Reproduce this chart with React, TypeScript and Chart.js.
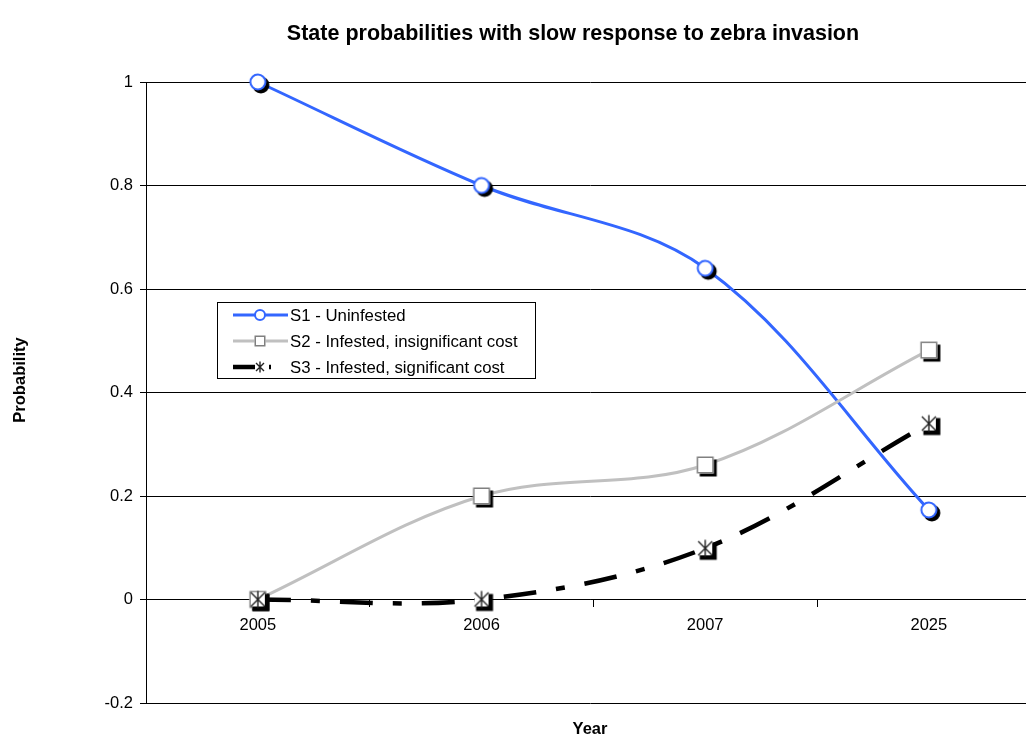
import React, { useEffect, useRef } from "react";
import { Chart, registerables } from "chart.js";

Chart.register(...registerables);

const FONT = "'Liberation Sans', Arial, Helvetica, sans-serif";

const titleText = "State probabilities with slow response to zebra invasion";
const xTitle = "Year";
const yTitle = "Probability";

const categories = ["2005", "2006", "2007", "2025"];
const s1Values = [1, 0.8, 0.64, 0.173];
const s2Values = [0, 0.2, 0.26, 0.482];
const s3Values = [0, 0, 0.099, 0.34];
const seriesLabels = [
  "S1 - Uninfested",
  "S2 - Infested, insignificant cost",
  "S3 - Infested, significant cost",
];

const yMin = -0.2;
const yMax = 1;
const yStep = 0.2;

const BLUE = "rgb(51,102,255)";
const GRAY = "#c0c0c0";
const MARK_GRAY = "#808080";

type Kind = "circle" | "square" | "star";

function drawGlyph(g: CanvasRenderingContext2D, kind: Kind, cx: number, cy: number, r: number, withBg: boolean) {
  if (kind === "circle") {
    g.beginPath();
    g.arc(cx, cy, r - 1, 0, Math.PI * 2);
    g.fillStyle = "#fff";
    g.fill();
    g.lineWidth = 2;
    g.strokeStyle = BLUE;
    g.stroke();
  } else if (kind === "square") {
    g.fillStyle = "#fff";
    g.fillRect(cx - r, cy - r, 2 * r, 2 * r);
    g.lineWidth = 1.5;
    g.strokeStyle = MARK_GRAY;
    g.strokeRect(cx - r + 0.75, cy - r + 0.75, 2 * r - 1.5, 2 * r - 1.5);
  } else {
    if (withBg) {
      g.fillStyle = "#fff";
      g.fillRect(cx - r + 1.5, cy - r + 1.5, 2 * r - 3, 2 * r - 3);
    }
    const d = r - 1.5;
    g.strokeStyle = "#222";
    g.lineWidth = 1.4;
    g.beginPath();
    g.moveTo(cx - d, cy - d);
    g.lineTo(cx + d, cy + d);
    g.moveTo(cx + d, cy - d);
    g.lineTo(cx - d, cy + d);
    g.moveTo(cx, cy - r);
    g.lineTo(cx, cy + r);
    g.stroke();
  }
}

function makeMarker(kind: Kind): HTMLCanvasElement {
  const S = 34;
  const c = S / 2;
  const r = 8.5;
  const off = 3;
  const cv = document.createElement("canvas");
  cv.width = S;
  cv.height = S;
  const g = cv.getContext("2d") as CanvasRenderingContext2D;
  g.fillStyle = "#000";
  if (kind === "circle") {
    g.beginPath();
    g.arc(c + off, c + off, r, 0, Math.PI * 2);
    g.fill();
  } else {
    g.fillRect(c - r + off, c - r + off, 2 * r, 2 * r);
  }
  drawGlyph(g, kind, c, c, r, true);
  return cv;
}

const decorPlugin = {
  id: "decor",
  afterDraw(chart: any) {
    const ctx: CanvasRenderingContext2D = chart.ctx;
    ctx.save();
    ctx.fillStyle = "#000";
    ctx.textAlign = "center";
    ctx.textBaseline = "middle";
    ctx.font = `bold 21.5px ${FONT}`;
    ctx.fillText(titleText, 565, 26);

    ctx.font = `bold 16.5px ${FONT}`;
    ctx.fillText(xTitle, 582, 721);
    ctx.save();
    ctx.translate(12, 372);
    ctx.rotate(-Math.PI / 2);
    ctx.fillText(yTitle, 0, 0);
    ctx.restore();

    // legend
    const bx = 209.5, by = 294.5, bw = 318, bh = 76;
    ctx.fillStyle = "#fff";
    ctx.fillRect(bx, by, bw, bh);
    ctx.strokeStyle = "#000";
    ctx.lineWidth = 1;
    ctx.strokeRect(bx, by, bw, bh);
    const rows = [307, 333, 359];
    const lx0 = 225, lx1 = 280, mx = 252;
    // S1
    ctx.strokeStyle = BLUE;
    ctx.lineWidth = 3;
    ctx.beginPath();
    ctx.moveTo(lx0, rows[0]);
    ctx.lineTo(lx1, rows[0]);
    ctx.stroke();
    drawGlyph(ctx, "circle", mx, rows[0], 6, false);
    // S2
    ctx.strokeStyle = GRAY;
    ctx.lineWidth = 3;
    ctx.beginPath();
    ctx.moveTo(lx0, rows[1]);
    ctx.lineTo(lx1, rows[1]);
    ctx.stroke();
    drawGlyph(ctx, "square", mx, rows[1], 5.5, false);
    // S3
    ctx.strokeStyle = "#000";
    ctx.lineWidth = 4.5;
    ctx.beginPath();
    ctx.moveTo(lx0, rows[2]);
    ctx.lineTo(lx0 + 22, rows[2]);
    ctx.moveTo(lx0 + 36, rows[2]);
    ctx.lineTo(lx0 + 38, rows[2]);
    ctx.stroke();
    drawGlyph(ctx, "star", mx, rows[2], 5.5, false);

    ctx.fillStyle = "#000";
    ctx.textAlign = "left";
    ctx.font = `16.8px ${FONT}`;
    seriesLabels.forEach((t, i) => ctx.fillText(t, 282, rows[i] + 1));
    ctx.restore();
  },
};

export default function App() {
  const ref = useRef<HTMLCanvasElement | null>(null);

  useEffect(() => {
    document.documentElement.style.overflow = "hidden";
    document.body.style.overflow = "hidden";
    if (!ref.current) return;
    const toPts = (vals: number[]) => vals.map((v, i) => ({ x: i, y: v }));
    const chart = new Chart(ref.current, {
      type: "line",
      data: {
        datasets: [
          {
            label: seriesLabels[0],
            data: toPts(s1Values),
            borderColor: BLUE,
            borderWidth: 3,
            tension: 0.35,
            pointStyle: makeMarker("circle") as any,
            pointRadius: 17,
            order: 3,
            clip: false as any,
          },
          {
            label: seriesLabels[1],
            data: toPts(s2Values),
            borderColor: GRAY,
            borderWidth: 3,
            tension: 0.35,
            pointStyle: makeMarker("square") as any,
            pointRadius: 17,
            order: 2,
            clip: false as any,
          },
          {
            label: seriesLabels[2],
            data: toPts(s3Values),
            borderColor: "#000",
            borderWidth: 4.5,
            borderDash: [33, 20, 9, 20],
            borderCapStyle: "butt",
            tension: 0.35,
            pointStyle: makeMarker("star") as any,
            pointRadius: 17,
            order: 1,
            clip: false as any,
          },
        ],
      },
      options: {
        animation: false,
        responsive: true,
        maintainAspectRatio: false,
        layout: { autoPadding: false, padding: { top: 74, bottom: 34, left: 0, right: 0 } },
        plugins: {
          legend: { display: false },
          tooltip: { enabled: false },
          title: { display: false },
        },
        events: [],
        scales: {
          x: {
            type: "linear",
            position: { y: 0 } as any,
            min: -0.5,
            max: 3.47,
            afterBuildTicks: (scale: any) => {
              const t: { value: number }[] = [];
              categories.forEach((_, i) => {
                t.push({ value: i - 0.5 });
                t.push({ value: i });
              });
              scale.ticks = t;
            },
            afterFit: (scale: any) => {
              scale.paddingLeft = 0;
              scale.paddingRight = 0;
            },
            ticks: {
              autoSkip: false,
              maxRotation: 0,
              padding: 9,
              color: "#000",
              font: { family: FONT, size: 16.5 },
              callback: (v: any) => (Number.isInteger(v) ? categories[v] : ""),
            },
            grid: {
              drawOnChartArea: false,
              drawTicks: true,
              tickLength: 7,
              tickColor: (c: any) => (c.tick && Number.isInteger(c.tick.value) ? "rgba(0,0,0,0)" : "#000"),
            },
            border: { display: true, color: "#000", width: 1 },
          },
          y: {
            type: "linear",
            min: yMin,
            max: yMax,
            afterFit: (scale: any) => {
              scale.width = 138;
            },
            ticks: {
              stepSize: yStep,
              padding: 7,
              color: "#000",
              font: { family: FONT, size: 16.5 },
              callback: (v: any) => {
                const r = Math.round(Number(v) * 10) / 10;
                return r === 0 ? "0" : String(r);
              },
            },
            grid: {
              color: "#000",
              lineWidth: 1,
              drawTicks: true,
              tickLength: 6,
              tickColor: "#000",
            },
            border: { display: true, color: "#000", width: 1 },
          },
        },
      },
      plugins: [decorPlugin],
    });
    return () => chart.destroy();
  }, []);

  return (
    <div style={{ width: 1026, height: 729, position: "relative" }}>
      <canvas ref={ref} />
    </div>
  );
}
